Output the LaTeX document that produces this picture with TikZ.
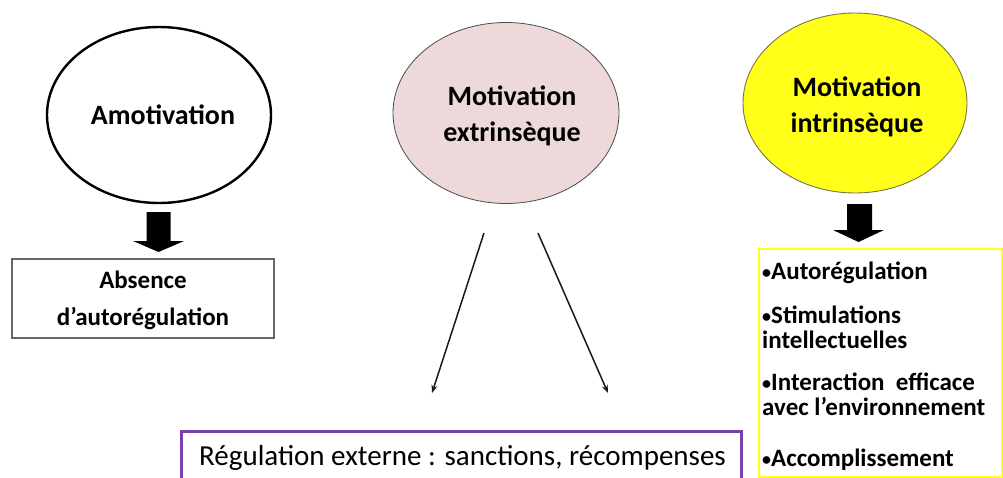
\documentclass[tikz,border=0pt]{standalone}
\usepackage{fontspec}
\setmainfont{Carlito}
\usetikzlibrary{shapes.geometric,arrows.meta}
\definecolor{pinkfill}{HTML}{EDD9D9}
\definecolor{yel}{HTML}{FFFF1A}
\definecolor{purp}{HTML}{7A3FA8}
\newcommand{\smbul}{{\fontsize{18}{18}\selectfont\raisebox{0.05em}{•}}}
\tikzset{
  ell/.style={ellipse, inner sep=0pt},
  lbl/.style={font=\bfseries\fontsize{28}{36}\selectfont, align=center},
  blk/.style={fill=black},
  thinarrow/.style={draw=black!90, line width=1.5pt, -{Stealth[length=8pt,width=6pt]}},
  itm/.style={anchor=west, inner sep=0pt, font=\bfseries\fontsize{25}{27}\selectfont}
}
\begin{document}
\begin{tikzpicture}[x=1pt,y=-1pt]
\useasboundingbox (0,0) rectangle (1003,477);
\clip (0,0) rectangle (1003,477);
% ellipses
\node[ell, draw=black, line width=2.4pt, minimum width=224pt, minimum height=176pt] (amot) at (159,115) {};
\node[lbl] (amotT) at (163,115) {Amotivation};
\node[ell, draw=black!70, line width=0.8pt, fill=pinkfill, minimum width=226pt, minimum height=181pt] (extr) at (506,113) {};
\node[lbl] (extrT) at (512,116) {Motivation\\extrinsèque};
\node[ell, draw=black!60!yellow, line width=0.9pt, fill=yel, minimum width=224pt, minimum height=180pt] (intr) at (855,103) {};
\node[lbl] (intrT) at (857,107) {Motivation\\intrinsèque};
% boxes
\node[draw=black!60, line width=1.2pt, minimum width=262pt, minimum height=79pt, inner sep=0pt] (abs) at (143,298.5) {};
\node[font=\bfseries\fontsize{25}{37}\selectfont, align=center] (absT) at (143,300) {Absence\\d’autorégulation};
\node[draw=purp, line width=2.6pt, minimum width=560pt, minimum height=70pt, inner sep=0pt, anchor=north west] (reg) at (180,430) {};
\node[font=\fontsize{29}{32}\selectfont, anchor=west, inner sep=0pt] (regT) at (199,458) {Régulation externe : sanctions, récompenses};
\node[draw=yel, line width=2pt, minimum width=243pt, minimum height=228pt, inner sep=0pt, anchor=north west] (intb) at (758,248) {};
\node[itm] (i1) at (762,273) {\smbul Autorégulation};
\node[itm] (i2) at (762,315) {\smbul Stimulations};
\node[itm] (i2b) at (762,340) {intellectuelles};
\node[itm] (i3) at (762,382) {\smbul Interaction~~efficace};
\node[itm] (i3b) at (762,406) {avec l’environnement};
\node[itm] (i4) at (762,460) {\smbul Accomplissement};
% block arrows
\coordinate (la) at (158.5,212);
\fill[blk] (la) ++(-12,0) -- ++(24,0) -- ++(0,29) -- ++(13.5,0) -- (158.5,252) -- (133,241) -- ++(13.5,0) -- cycle;
\coordinate (ra) at (859.5,204);
\fill[blk] (ra) ++(-12.5,0) -- ++(25,0) -- ++(0,26) -- ++(12,0) -- (858.5,242) -- (833,230) -- ++(14,0) -- cycle;
% thin arrows
\coordinate (e1s) at (484,233);
\coordinate (e1e) at (432,393);
\coordinate (e2s) at (538,233);
\coordinate (e2e) at (608,393);
\draw[thinarrow] (e1s) -- (e1e);
\draw[thinarrow] (e2s) -- (e2e);
\end{tikzpicture}
\end{document}
